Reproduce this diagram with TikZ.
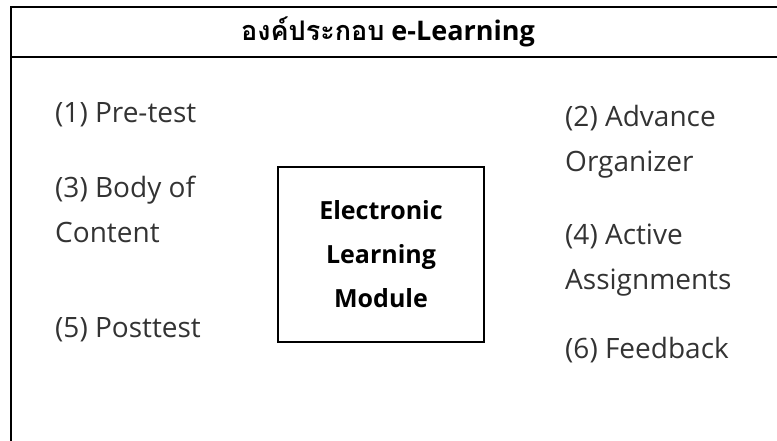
\documentclass[tikz,border=0pt]{standalone}
\usepackage{fontspec}
\setmainfont{Open Sans}
\newfontfamily\thaifont[Script=Thai]{Loma}
\tikzset{
  frameline/.style={line width=2.2pt, line join=miter},
  item/.style={anchor=west, inner sep=0pt, align=left, text=black!80,
    font=\fontsize{28}{45}\selectfont},
  modbox/.style={draw, line width=1.6pt, minimum width=206pt, minimum height=175pt,
    align=center, inner sep=0pt, font=\fontsize{25}{44}\selectfont\bfseries},
  titletext/.style={inner sep=0pt, font=\fontsize{27}{30}\selectfont\bfseries}
}
\begin{document}
\begin{tikzpicture}[x=1pt,y=-1pt]
\useasboundingbox (0,0) rectangle (777,441);
\draw[frameline] (777,7) -- (11,7) -- (11,441);
\draw[frameline] (11,57) -- (777,57);
\node[titletext] (title) at (388,32) {{\thaifont องค์ประกอบ} e-Learning};
\node[item] (pretest) at (55,115) {(1) Pre-test};
\node[item] (body) at (55,209.5) {(3) Body of\\Content};
\node[item] (posttest) at (55,330) {(5) Posttest};
\node[item] (advance) at (565,141.5) {(2) Advance\\Organizer};
\node[item] (active) at (565,260.5) {(4) Active\\Assignments};
\node[item] (feedback) at (565,350) {(6) Feedback};
\node[modbox] (module) at (381,254.5) {Electronic\\Learning\\Module};
\end{tikzpicture}
\end{document}
